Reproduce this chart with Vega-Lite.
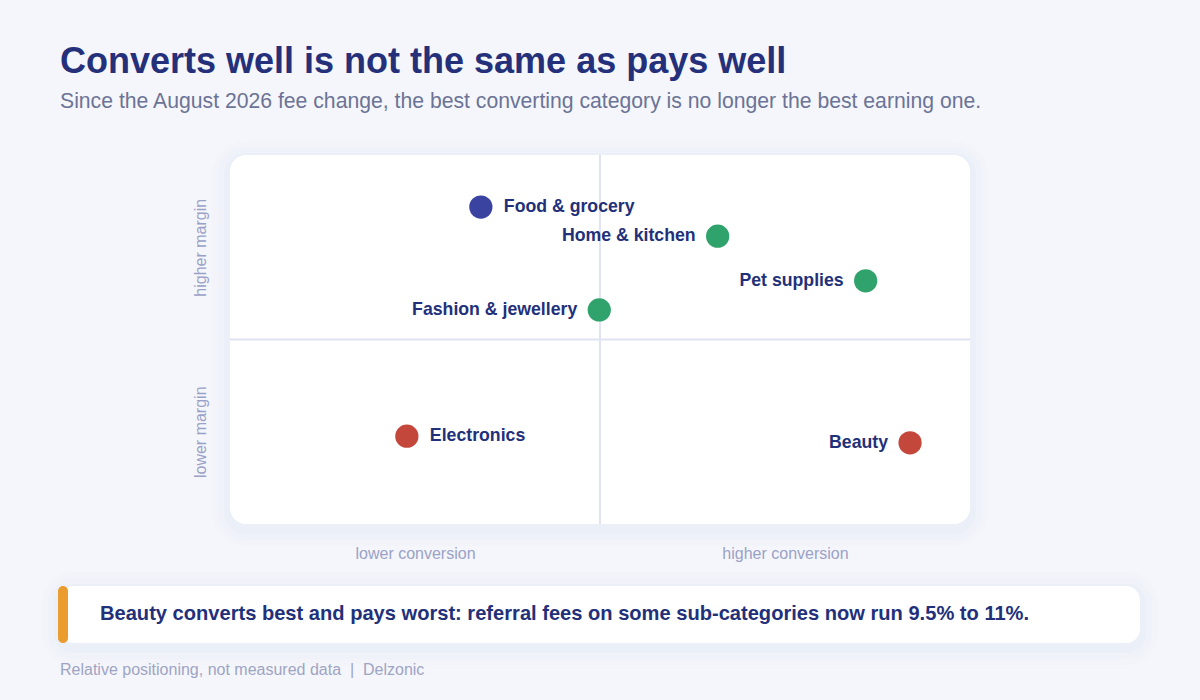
{
  "$schema": "https://vega.github.io/schema/vega-lite/v6.json",
  "width": 740,
  "height": 369,
  "autosize": {"type": "none"},
  "padding": {"left": 230, "top": 155, "right": 230, "bottom": 176},
  "background": "#f5f6fb",
  "config": {
    "view": {"fill": null, "stroke": null},
    "font": "Liberation Sans"
  },
  "title": {
    "text": "Converts well is not the same as pays well",
    "subtitle": "Since the August 2026 fee change, the best converting category is no longer the best earning one.",
    "anchor": "start",
    "frame": "group",
    "dx": -170,
    "offset": 28,
    "font": "Liberation Sans",
    "fontSize": 36,
    "fontWeight": "bold",
    "color": "#24307a",
    "subtitleFont": "Liberation Sans",
    "subtitleFontSize": 21.2,
    "subtitleColor": "#6b7396",
    "subtitlePadding": 10
  },
  "data": {
    "values": [
      {"category": "Food & grocery", "conversion": 3.39, "margin": 8.59, "verdict": "steady"},
      {"category": "Home & kitchen", "conversion": 6.59, "margin": 7.8, "verdict": "strong"},
      {"category": "Pet supplies", "conversion": 8.59, "margin": 6.59, "verdict": "strong"},
      {"category": "Fashion & jewellery", "conversion": 4.99, "margin": 5.8, "verdict": "strong"},
      {"category": "Electronics", "conversion": 2.39, "margin": 2.38, "verdict": "weak"},
      {"category": "Beauty", "conversion": 9.19, "margin": 2.2, "verdict": "weak"}
    ]
  },
  "layer": [
    {
      "data": {"values": [{"box": "card shadow"}]},
      "mark": {"type": "rect", "fill": "#d8ddf1", "opacity": 0.07, "cornerRadius": 34, "clip": false},
      "encoding": {
        "x": {"datum": -0.243, "type": "quantitative", "scale": {"domain": [0, 10]}},
        "x2": {"datum": 10.243},
        "y": {"datum": 10.379, "type": "quantitative", "scale": {"domain": [0, 10]}},
        "y2": {"datum": -0.596}
      }
    },
    {
      "data": {"values": [{"box": "card shadow"}]},
      "mark": {"type": "rect", "fill": "#d8ddf1", "opacity": 0.1, "cornerRadius": 28, "clip": false},
      "encoding": {
        "x": {"datum": -0.162, "type": "quantitative"},
        "x2": {"datum": 10.162},
        "y": {"datum": 10.217, "type": "quantitative"},
        "y2": {"datum": -0.434}
      }
    },
    {
      "data": {"values": [{"box": "card shadow"}]},
      "mark": {"type": "rect", "fill": "#d8ddf1", "opacity": 0.16, "cornerRadius": 22, "clip": false},
      "encoding": {
        "x": {"datum": -0.081, "type": "quantitative"},
        "x2": {"datum": 10.081},
        "y": {"datum": 10.054, "type": "quantitative"},
        "y2": {"datum": -0.271}
      }
    },
    {
      "data": {"values": [{"box": "card"}]},
      "mark": {"type": "rect", "fill": "#ffffff", "cornerRadius": 16, "clip": false},
      "encoding": {
        "x": {"datum": 0, "type": "quantitative"},
        "x2": {"datum": 10},
        "y": {"datum": 10, "type": "quantitative"},
        "y2": {"datum": 0}
      }
    },
    {
      "data": {"values": [{"box": "callout shadow"}]},
      "mark": {"type": "rect", "fill": "#d8ddf1", "opacity": 0.07, "cornerRadius": 32, "clip": false},
      "encoding": {
        "x": {"datum": -2.5405, "type": "quantitative"},
        "x2": {"datum": 12.5405},
        "y": {"datum": -1.301, "type": "quantitative"},
        "y2": {"datum": -3.821}
      }
    },
    {
      "data": {"values": [{"box": "callout shadow"}]},
      "mark": {"type": "rect", "fill": "#d8ddf1", "opacity": 0.1, "cornerRadius": 26, "clip": false},
      "encoding": {
        "x": {"datum": -2.4595, "type": "quantitative"},
        "x2": {"datum": 12.4595},
        "y": {"datum": -1.463, "type": "quantitative"},
        "y2": {"datum": -3.659}
      }
    },
    {
      "data": {"values": [{"box": "callout shadow"}]},
      "mark": {"type": "rect", "fill": "#d8ddf1", "opacity": 0.16, "cornerRadius": 20, "clip": false},
      "encoding": {
        "x": {"datum": -2.3784, "type": "quantitative"},
        "x2": {"datum": 12.3784},
        "y": {"datum": -1.626, "type": "quantitative"},
        "y2": {"datum": -3.496}
      }
    },
    {
      "data": {"values": [{"box": "callout"}]},
      "mark": {"type": "rect", "fill": "#ffffff", "cornerRadius": 14, "clip": false},
      "encoding": {
        "x": {"datum": -2.2973, "type": "quantitative"},
        "x2": {"datum": 12.2973},
        "y": {"datum": -1.68, "type": "quantitative"},
        "y2": {"datum": -3.225}
      }
    },
    {
      "data": {"values": [{"box": "accent"}]},
      "mark": {"type": "rect", "fill": "#eb9c2f", "cornerRadius": 5, "clip": false},
      "encoding": {
        "x": {"datum": -2.324, "type": "quantitative"},
        "x2": {"datum": -2.189},
        "y": {"datum": -1.68, "type": "quantitative"},
        "y2": {"datum": -3.225}
      }
    },
    {
      "data": {"values": [{"note": "Beauty converts best and pays worst: referral fees on some sub-categories now run 9.5% to 11%."}]},
      "mark": {"type": "text", "align": "left", "baseline": "middle", "fontSize": 20.1, "fontWeight": "bold", "color": "#22307a", "clip": false},
      "encoding": {
        "x": {"datum": -1.7568, "type": "quantitative"},
        "y": {"datum": -2.439, "type": "quantitative"},
        "text": {"field": "note"}
      }
    },
    {
      "data": {"values": [{"note": "Relative positioning, not measured data\u00a0\u00a0|\u00a0\u00a0Delzonic"}]},
      "mark": {"type": "text", "align": "left", "baseline": "middle", "fontSize": 16, "color": "#9ea4c4", "clip": false},
      "encoding": {
        "x": {"datum": -2.2973, "type": "quantitative"},
        "y": {"datum": -3.957, "type": "quantitative"},
        "text": {"field": "note"}
      }
    },
    {
      "data": {"values": [{"line": "mid"}]},
      "mark": {"type": "rule", "color": "#dfe3f3", "strokeWidth": 2},
      "encoding": {"x": {"datum": 5, "type": "quantitative"}}
    },
    {
      "data": {"values": [{"line": "mid"}]},
      "mark": {"type": "rule", "color": "#dfe3f3", "strokeWidth": 2},
      "encoding": {"y": {"datum": 5, "type": "quantitative"}}
    },
    {
      "mark": {"type": "circle", "size": 540, "opacity": 1},
      "encoding": {
        "x": {
          "field": "conversion", "type": "quantitative",
          "scale": {"domain": [0, 10]},
          "axis": {
            "values": [2.5, 7.5], "title": null, "domain": false, "ticks": false, "grid": false,
            "labelExpr": "datum.value < 5 ? 'lower conversion' : 'higher conversion'",
            "labelFontSize": 16, "labelColor": "#9aa1c6", "labelPadding": 29, "labelBaseline": "middle",
            "labelFont": "Liberation Sans"
          }
        },
        "y": {
          "field": "margin", "type": "quantitative",
          "scale": {"domain": [0, 10]},
          "axis": {
            "values": [2.5, 7.5], "title": null, "domain": false, "ticks": false, "grid": false,
            "labelExpr": "datum.value < 5 ? 'lower margin' : 'higher margin'",
            "labelAngle": -90, "labelAlign": "center", "labelBaseline": "middle",
            "labelFontSize": 16, "labelColor": "#9aa1c6", "labelPadding": 30,
            "labelFont": "Liberation Sans"
          }
        },
        "color": {
          "field": "verdict", "type": "nominal",
          "scale": {"domain": ["steady", "strong", "weak"], "range": ["#3a44a0", "#2fa36b", "#c4473b"]},
          "legend": null
        }
      }
    },
    {
      "transform": [{"filter": "datum.category === 'Food & grocery' || datum.category === 'Electronics'"}],
      "mark": {"type": "text", "align": "left", "baseline": "middle", "dx": 23, "fontSize": 17.7, "fontWeight": "bold", "color": "#22307a"},
      "encoding": {
        "x": {"field": "conversion", "type": "quantitative"},
        "y": {"field": "margin", "type": "quantitative"},
        "text": {"field": "category"}
      }
    },
    {
      "transform": [{"filter": "datum.category !== 'Food & grocery' && datum.category !== 'Electronics'"}],
      "mark": {"type": "text", "align": "right", "baseline": "middle", "dx": -22, "fontSize": 17.7, "fontWeight": "bold", "color": "#22307a"},
      "encoding": {
        "x": {"field": "conversion", "type": "quantitative"},
        "y": {"field": "margin", "type": "quantitative"},
        "text": {"field": "category"}
      }
    }
  ]
}
